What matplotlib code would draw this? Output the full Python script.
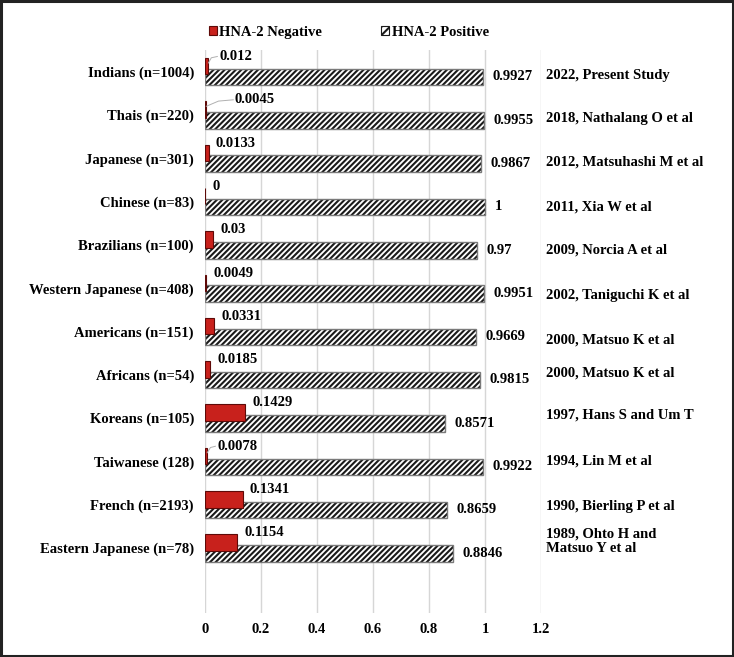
import matplotlib.pyplot as plt
from matplotlib.patches import Rectangle, Patch

populations = ["Indians (n=1004)", "Thais (n=220)", "Japanese (n=301)", "Chinese (n=83)",
               "Brazilians (n=100)", "Western Japanese (n=408)", "Americans (n=151)",
               "Africans (n=54)", "Koreans (n=105)", "Taiwanese (128)", "French (n=2193)",
               "Eastern Japanese (n=78)"]
hna2_negative = [0.012, 0.0045, 0.0133, 0, 0.03, 0.0049, 0.0331, 0.0185, 0.1429, 0.0078, 0.1341, 0.1154]
hna2_positive = [0.9927, 0.9955, 0.9867, 1, 0.97, 0.9951, 0.9669, 0.9815, 0.8571, 0.9922, 0.8659, 0.8846]
studies = ["2022, Present Study", "2018, Nathalang O et al", "2012, Matsuhashi M et al",
           "2011, Xia W et al", "2009, Norcia A et al", "2002, Taniguchi K et al",
           "2000, Matsuo K et al", "2000, Matsuo K et al", "1997, Hans S and Um T",
           "1994, Lin M et al", "1990, Bierling P et al", "1989, Ohto H and\nMatsuo Y et al"]
x_ticks = [0, 0.2, 0.4, 0.6, 0.8, 1, 1.2]

# small manual nudges (the original had hand-placed text boxes)
study_dy = [0.09, 0.08, 0.09, 0.12, 0.12, 0.18, 0.2, -0.05, -0.07, -0.02, 0.05, -0.16]
leader_x = {0: 0.05, 1: 0.107, 9: 0.043}

plt.rcParams["font.family"] = ["Liberation Serif", "DejaVu Serif"]
plt.rcParams["font.weight"] = "bold"
plt.rcParams["hatch.linewidth"] = 1.5
FS = 10.5

fig = plt.figure(figsize=(7.34, 6.57), dpi=100)
ax = fig.add_axes([0.2793, 0.067, 0.4578, 0.8569])

y = list(range(len(populations)))
h = 0.38
red = "#c8211c"
hatch = "//////"
ax.barh([i - 0.125 for i in y], hna2_negative, h, color=red, edgecolor="#5e0a08",
        linewidth=0.8, zorder=3)
# hatch drawn in black, outline drawn separately in grey
ax.barh([i + 0.125 for i in y], hna2_positive, h, color="white", edgecolor="#1a1a1a",
        hatch=hatch, linewidth=0, zorder=2)
ax.barh([i + 0.125 for i in y], hna2_positive, h, fill=False, edgecolor="#7a7a7a",
        linewidth=1.0, zorder=2)

for i, (neg, pos) in enumerate(zip(hna2_negative, hna2_positive)):
    if i in leader_x:
        tx = leader_x[i]
        ax.plot([max(neg, 0.003), tx * 0.45, tx - 0.006], [i - 0.2, i - 0.32, i - 0.35],
                color="#b0b0b0", lw=0.7, zorder=4)
    else:
        tx = neg + 0.025
    ax.text(tx, i - 0.35, f"{neg:g}", fontsize=FS, fontweight="bold", va="center", ha="left")
    ax.text(pos + 0.034, i + 0.12, f"{pos:g}", fontsize=FS, fontweight="bold",
            va="center", ha="left")
    ax.text(1.218, i + study_dy[i], studies[i], fontsize=FS, fontweight="bold",
            va="center", ha="left", linespacing=1.15, clip_on=False)

ax.set_xlim(0, 1.2)
ax.set_ylim(len(populations) + 0.5, -0.5)
ax.set_xticks(x_ticks)
ax.set_xticklabels([f"{t:g}" for t in x_ticks], fontsize=FS, fontweight="bold")
ax.set_yticks(y)
ax.set_yticklabels(populations, fontsize=FS, fontweight="bold")
ax.tick_params(axis="both", length=0)
ax.tick_params(axis="y", pad=8)
ax.tick_params(axis="x", pad=7)
ax.grid(axis="x", color="#d6d6d6", linewidth=1.0, zorder=0)
ax.set_axisbelow(True)
for s in ax.spines.values():
    s.set_visible(False)

handles = [Patch(facecolor=red, edgecolor="#5e0a08", linewidth=0.8),
           Patch(facecolor="white", edgecolor="#1a1a1a", hatch="////", linewidth=0.8)]
fig.legend(handles, ["HNA-2 Negative", "HNA-2 Positive"], loc="center",
           bbox_to_anchor=(0.475, 0.951), ncol=2, frameon=False,
           prop={"size": FS, "weight": "bold"}, handlelength=0.55, handleheight=0.55,
           handletextpad=0.2, columnspacing=4.0)

fig.patches.append(Rectangle((0.002, 0.002), 0.996, 0.996, transform=fig.transFigure,
                             fill=False, edgecolor="#222222", linewidth=2.2))

plt.savefig("out.png", dpi=100)
plt.close()
